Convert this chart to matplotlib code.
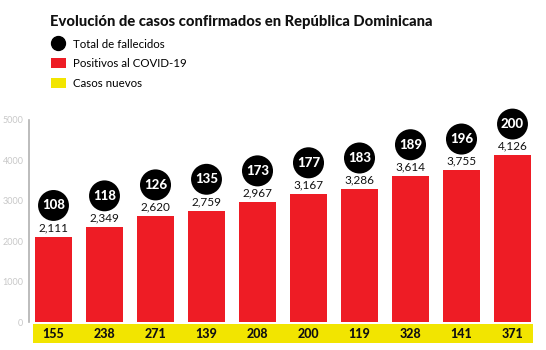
import matplotlib.pyplot as plt
from matplotlib.lines import Line2D
from matplotlib.patches import Patch

# Data
positivos = [2111, 2349, 2620, 2759, 2967, 3167, 3286, 3614, 3755, 4126]
fallecidos = [108, 118, 126, 135, 173, 177, 183, 189, 196, 200]
nuevos = [155, 238, 271, 139, 208, 200, 119, 328, 141, 371]
yticks = [0, 1000, 2000, 3000, 4000, 5000]

RED = "#ee1c25"
YELLOW = "#f2e500"

plt.rcParams['font.family'] = ['Lato', 'DejaVu Sans']

W, H = 546, 350
fig = plt.figure(figsize=(W / 100, H / 100), dpi=100)
fig.patch.set_facecolor("white")

# main axes: left spine at x=29px, zero at y=322px, 5000 at y=120px
ax = fig.add_axes([29 / W, (H - 322) / H, (W - 29) / W, 202 / H])
x = list(range(len(positivos)))
step = 51.0
ax.set_xlim(-(53.5 - 29) / step, -(53.5 - 29) / step + (W - 29) / step)
ax.set_ylim(0, 5000)

ax.bar(x, positivos, width=0.725, color=RED, zorder=2)

for i, (p, f) in enumerate(zip(positivos, fallecidos)):
    ax.annotate(f"{p:,}", (i, p), xytext=(0, 2.5), textcoords="offset points",
                ha="center", va="bottom", fontsize=8.5, color="#111111")
    ax.annotate(f"{f}", (i, p), xytext=(0, 22.5), textcoords="offset points",
                ha="center", va="center", fontsize=9.5, fontweight="black", color="white",
                bbox=dict(boxstyle="circle,pad=0.3", fc="black", ec="none"),
                annotation_clip=False)

ax.set_yticks(yticks)
ax.set_yticklabels([str(v) for v in yticks], fontsize=6.5, color="#c8c8c8")
ax.tick_params(axis="y", length=0, pad=4)
ax.set_xticks([])
for s in ["top", "right", "bottom"]:
    ax.spines[s].set_visible(False)
ax.spines["left"].set_color("#b0b0b0")
ax.spines["left"].set_linewidth(1.2)
ax.patch.set_alpha(0)

# yellow strip with new cases
sx = fig.add_axes([33 / W, (H - 343) / H, 500 / W, 19 / H])
sx.set_facecolor(YELLOW)
sx.set_xlim(-(53.5 - 33) / step, -(53.5 - 33) / step + 500 / step)
sx.set_ylim(0, 1)
for i, n in enumerate(nuevos):
    sx.text(i, 0.45, str(n), ha="center", va="center", fontsize=9,
            fontweight="black", color="#111111")
sx.set_xticks([])
sx.set_yticks([])
for s in sx.spines.values():
    s.set_visible(False)

# title and legend
fig.text(50 / W, 1 - 22 / H, "Evolución de casos confirmados en República Dominicana",
         fontsize=10.6, fontweight="black", color="#111111", va="center", ha="left")
handles = [
    Line2D([], [], marker="o", linestyle="none", markersize=10,
           markerfacecolor="black", markeredgecolor="black"),
    Patch(facecolor=RED, edgecolor="none"),
    Patch(facecolor=YELLOW, edgecolor="none"),
]
fig.legend(handles, ["Total de fallecidos", "Positivos al COVID-19", "Casos nuevos"],
           loc="upper left", bbox_to_anchor=(46 / W, 1 - 34 / H), frameon=False,
           fontsize=8.3, handlelength=1.3, handleheight=0.9, handletextpad=0.6,
           labelspacing=0.75, borderaxespad=0)

fig.savefig("out.png", dpi=100, facecolor="white")
